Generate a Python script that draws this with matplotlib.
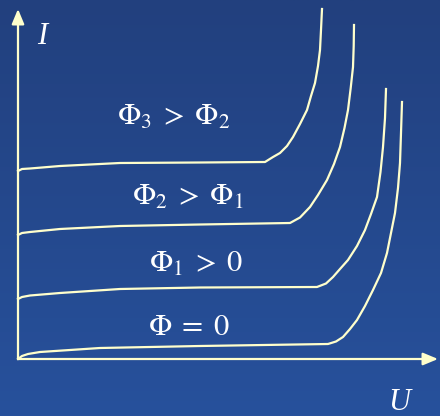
import numpy as np
import matplotlib
matplotlib.use('Agg')
import matplotlib.pyplot as plt

plt.rcParams['mathtext.fontset'] = 'stix'
plt.rcParams['font.family'] = ['Liberation Serif', 'DejaVu Serif']

# curves (U, I in pixel-like units)
U0 = [0, 4, 10, 22, 82, 182, 310, 318, 325, 332, 339, 347, 355, 363, 369, 373, 377, 380, 382, 383, 384]
I0 = [0, 3, 5, 7, 11, 13, 15, 17.5, 22, 30, 39, 53, 69, 86, 106, 126, 146, 171, 196, 226, 257]

U1 = [0, 4, 12, 42, 102, 182, 299, 308, 315, 322, 330, 339, 347, 353, 359, 362.5, 365, 367, 368]
I1 = [60, 62, 63.5, 66, 70, 71.5, 72, 75.5, 82, 90, 99, 113, 129, 145, 162, 187, 212, 241, 270]

U2 = [0, 4, 12, 42, 102, 182, 272, 282, 292, 300, 309, 316, 322, 326.5, 330, 332.7, 335, 335.7, 336]
I2 = [124, 126, 127, 130, 133, 134.5, 136, 141.5, 152, 164, 179, 195, 212, 231, 249, 271, 292, 313, 334]

U3 = [0, 4, 12, 42, 102, 182, 247, 255, 262, 269, 275, 282, 289, 293, 297, 300, 302, 303, 304]
I3 = [188, 190, 190.5, 193, 196, 196.5, 197, 202, 206, 213, 222, 235, 249, 263, 276, 293, 309, 329, 350]

labels = [r'$\Phi\;=\;0$', r'$\Phi_1\;>\;0$', r'$\Phi_2\;>\;\Phi_1$', r'$\Phi_3\;>\;\Phi_2$']
label_pos = [(130, 24), (131, 87), (114, 154), (99, 234)]

line_col = '#FFFFCC'

fig = plt.figure(figsize=(4.4, 4.16), dpi=100)
ax = fig.add_axes([0, 0, 1, 1])
ax.set_xlim(-18, 422)
ax.set_ylim(-57, 359)
ax.axis('off')

# background gradient
grad = np.linspace(0, 1, 256).reshape(-1, 1)
top = np.array([34, 64, 126]) / 255
bottom = np.array([39, 81, 156]) / 255
img = top + (bottom - top) * grad[:, :, None]
ax.imshow(img, extent=[-18, 422, -57, 359], aspect='auto', origin='upper', zorder=0)

# axes with arrows
arrow = dict(arrowstyle='-|>,head_length=0.6,head_width=0.25', color=line_col,
             lw=1.6, shrinkA=0, shrinkB=0, mutation_scale=15)
ax.annotate('', xy=(0, 350), xytext=(0, 0), arrowprops=arrow)
ax.annotate('', xy=(420, 0), xytext=(0, 0), arrowprops=arrow)

for u, i in [(U0, I0), (U1, I1), (U2, I2), (U3, I3)]:
    ax.plot(u, i, color=line_col, lw=1.6, solid_joinstyle='round')

for txt, (x, y) in zip(labels, label_pos):
    ax.text(x, y, txt, color='white', fontsize=22, ha='left', va='baseline')

ax.text(24, 322, 'I', color='white', fontsize=22, style='italic', ha='center', va='center')
ax.text(381, -43, 'U', color='white', fontsize=22, style='italic', ha='center', va='center')

fig.savefig('out.png', dpi=100)
